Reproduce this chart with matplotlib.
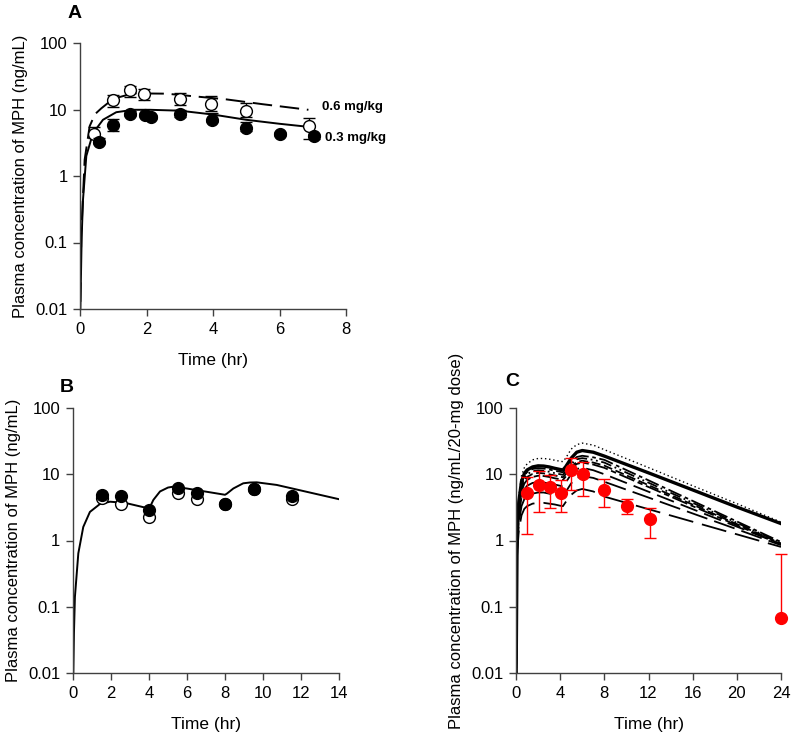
import matplotlib
matplotlib.use("Agg")
import matplotlib.pyplot as plt

plt.rcParams['font.family'] = ['Liberation Sans', 'DejaVu Sans']

# ---- panel A: rat data, two doses
tA_03 = [0.57, 1.0, 1.5, 1.95, 2.15, 3.0, 3.97, 4.98, 6.0, 7.05]
cA_03 = [3.3, 5.9, 8.7, 8.2, 7.8, 8.5, 7.0, 5.3, 4.3, 4.05]
errA_03_lo = [0.3, 1.1, 0.8, 0.6, 0.5, 0.8, 0.6, 0.6, 0.3, 0.5]
errA_03_hi = [0.4, 1.3, 0.9, 0.6, 0.5, 1.2, 1.8, 1.3, 0.3, 0.3]
tA_06 = [0.42, 1.0, 1.5, 1.93, 3.0, 3.95, 4.99, 6.9]
cA_06 = [4.3, 14.0, 19.4, 17.0, 14.5, 12.1, 9.6, 5.7]
errA_06_lo = [0.6, 3.0, 3.9, 3.2, 2.8, 2.5, 1.8, 2.1]
errA_06_hi = [1.2, 2.7, 3.4, 3.0, 3.4, 3.9, 2.8, 1.7]

tA_fit03 = [0, 0.05, 0.09, 0.19, 0.39, 0.69, 1.09, 1.6, 2.1, 3.0, 4.0, 5.0, 6.0, 7.0]
cA_fit03 = [0.005, 0.12, 0.44, 2.0, 4.4, 7.0, 9.1, 9.9, 9.9, 9.6, 8.4, 7.0, 6.1, 5.4]
tA_fit06 = [0, 0.04, 0.14, 0.29, 0.45, 0.64, 1.0, 1.6, 2.6, 3.6, 4.4, 5.5, 6.87]
cA_fit06 = [0.005, 0.14, 1.76, 5.6, 8.5, 10.4, 14.5, 17.5, 17.3, 15.5, 14.2, 12.0, 9.9]

# ---- panel B: multiple dosing
tB_obs = [1.5, 2.5, 4.0, 5.5, 6.5, 8.0, 9.5, 11.5]
cB_filled = [4.9, 4.75, 2.85, 6.2, 5.3, 3.56, 6.0, 4.75]
cB_open = [4.4, 3.5, 2.3, 5.2, 4.3, 3.5, 5.9, 4.2]
tB_fit = [0, 0.05, 0.1, 0.28, 0.54, 0.89, 1.42, 1.95, 2.74, 3.96, 4.05, 4.23, 4.58,
          5.0, 5.28, 5.98, 8.0, 8.1, 8.44, 8.96, 9.3, 9.67, 10.72, 14.0]
cB_fit = [0.005, 0.04, 0.14, 0.64, 1.6, 2.7, 3.56, 3.85, 3.7, 3.06, 3.2, 4.1, 5.5,
          6.3, 6.5, 6.1, 4.9, 5.1, 6.1, 7.3, 7.5, 7.55, 6.9, 4.2]

# ---- panel C: observed (red) and simulated curves
tC_obs = [0.97, 2.11, 3.08, 4.08, 5.01, 6.04, 8.0, 10.03, 12.14, 24.0]
cC_obs = [5.2, 6.9, 6.5, 5.3, 11.6, 10.0, 5.8, 3.3, 2.1, 0.068]
errC_lo = [3.96, 4.23, 3.4, 2.6, 5.8, 5.3, 2.56, 0.8, 1.02, 0.0]
errC_hi = [4.0, 4.4, 3.25, 2.9, 5.8, 5.5, 2.7, 0.9, 1.0, 0.552]

tC = [0, 0.1, 0.25, 0.5, 0.75, 1, 1.5, 2, 2.5, 3, 3.5, 4, 4.25, 4.5, 5, 5.5, 6, 7, 8, 12, 16, 20, 24]
cC_dotted = [0.005, 1.3, 4.6, 9.5, 12.5, 14.3, 16.5, 17.3, 17.3, 16.9, 16.3, 15.7, 15.5, 17.5, 24, 28, 29.5, 27.5, 23.5, 12.6, 6.7, 3.6, 1.9]
cC_solid = [0.005, 1.1, 3.8, 7.8, 10.2, 11.6, 12.9, 13.4, 13.3, 12.9, 12.3, 11.8, 11.6, 13.0, 17.5, 21.5, 22.8, 21.5, 18.8, 10.5, 5.8, 3.2, 1.8]
cC_m1 = [0.005, 1.0, 3.5, 7.2, 9.5, 10.8, 12.0, 12.4, 12.2, 11.8, 11.3, 10.9, 10.7, 12.0, 15.5, 18.2, 19.0, 18.0, 16.5, 8.1, 3.96, 1.94, 0.95]
cC_m2 = [0.005, 0.95, 3.3, 6.7, 8.8, 10.0, 11.1, 11.5, 11.3, 10.9, 10.4, 10.0, 9.8, 11.0, 14.2, 16.8, 17.5, 16.5, 15.0, 7.46, 3.71, 1.85, 0.92]
cC_m3 = [0.005, 0.9, 3.0, 6.1, 8.0, 9.1, 10.1, 10.5, 10.3, 10.0, 9.6, 9.2, 9.0, 10.0, 13.0, 15.3, 16.0, 15.0, 13.5, 6.85, 3.48, 1.77, 0.9]
cC_m4 = [0.005, 0.85, 2.7, 5.5, 7.2, 8.2, 9.1, 9.5, 9.4, 9.1, 8.7, 8.4, 8.2, 9.2, 12.0, 14.3, 15.0, 14.0, 12.5, 6.42, 3.3, 1.7, 0.88]
cC_l1 = [0.005, 0.8, 2.3, 4.5, 5.9, 6.7, 7.4, 7.6, 7.5, 7.3, 7.0, 6.7, 6.5, 7.5, 10.0, 12.0, 12.5, 11.5, 10.0, 5.45, 2.97, 1.62, 0.88]
cC_l2 = [0.005, 0.7, 1.8, 3.3, 4.2, 4.7, 5.1, 5.3, 5.3, 5.1, 4.9, 4.7, 4.6, 5.4, 7.3, 8.8, 9.4, 8.8, 7.7, 4.45, 2.56, 1.48, 0.85]
cC_l3 = [0.005, 0.6, 1.4, 2.4, 3.0, 3.3, 3.6, 3.7, 3.7, 3.6, 3.5, 3.35, 3.3, 3.8, 4.9, 5.7, 6.0, 5.5, 4.6, 2.97, 1.92, 1.24, 0.8]

yticks = [0.01, 0.1, 1, 10, 100]
ytick_labels = ['0.01', '0.1', '1', '10', '100']

FS = 12
AXC = '#404040'


def style_axes(ax, xmax, xticks, ylabel):
    "log y axis, only left/bottom spines, outward ticks"
    ax.set_yscale('log')
    ax.set_xlim(0, xmax)
    ax.set_ylim(0.01, 100)
    ax.set_yticks(yticks)
    ax.set_yticklabels(ytick_labels)
    ax.minorticks_off()
    ax.set_xticks(xticks)
    ax.set_xticklabels([str(x) for x in xticks])
    for s in ['top', 'right']:
        ax.spines[s].set_visible(False)
    for s in ['left', 'bottom']:
        ax.spines[s].set_color(AXC)
        ax.spines[s].set_linewidth(1.0)
    ax.tick_params(direction='out', length=5, width=1.0, color=AXC, labelsize=FS, pad=4)
    ax.set_ylabel(ylabel, fontsize=FS, labelpad=5)
    ax.set_xlabel('Time (hr)', fontsize=FS + 0.5, labelpad=12)


fig = plt.figure(figsize=(7.92, 7.37), dpi=100)

# panel A
axA = fig.add_axes([80 / 792, 1 - 309 / 737, 266 / 792, 266 / 737])
axA.plot(tA_fit03, cA_fit03, color='black', lw=1.4)
lnA, = axA.plot(tA_fit06, cA_fit06, color='black', lw=1.4)
lnA.set_dashes((10, 4))
axA.errorbar(tA_06, cA_06, yerr=[errA_06_lo, errA_06_hi], fmt='o', ms=8.5, mfc='white',
             mec='black', mew=1.0, ecolor='black', elinewidth=1.0, capsize=4.5, zorder=3)
axA.errorbar(tA_03, cA_03, yerr=[errA_03_lo, errA_03_hi], fmt='o', ms=8.5, mfc='black',
             mec='black', ecolor='black', elinewidth=1.0, capsize=4.5, zorder=4, clip_on=False)
axA.text(7.28, 10.9, '0.6 mg/kg', fontsize=9.5, fontweight='bold', va='center', ha='left')
axA.text(7.37, 3.7, '0.3 mg/kg', fontsize=9.5, fontweight='bold', va='center', ha='left')
style_axes(axA, 8, [0, 2, 4, 6, 8], 'Plasma concentration of MPH (ng/mL)')

# panel B
axB = fig.add_axes([73 / 792, 1 - 673 / 737, 266 / 792, 265 / 737])
axB.plot(tB_fit, cB_fit, color='black', lw=1.4)
axB.plot(tB_obs, cB_open, 'o', ms=8.5, mfc='white', mec='black', mew=1.0, zorder=3)
axB.plot(tB_obs, cB_filled, 'o', ms=8.5, mfc='black', mec='black', zorder=4)
style_axes(axB, 14, [0, 2, 4, 6, 8, 10, 12, 14], 'Plasma concentration of MPH (ng/mL)')

# panel C
axC = fig.add_axes([516 / 792, 1 - 673 / 737, 265 / 792, 265 / 737])
axC.plot(tC, cC_dotted, color='black', lw=1.0, ls=(0, (1, 2)))
axC.plot(tC, cC_solid, color='black', lw=2.4)
axC.plot(tC, cC_m1, color='black', lw=1.3, ls=(0, (8, 2, 2, 2)))
axC.plot(tC, cC_m2, color='black', lw=1.3, ls=(0, (6, 2, 1, 2, 1, 2)))
axC.plot(tC, cC_m3, color='black', lw=1.3, ls=(0, (5, 2)))
axC.plot(tC, cC_m4, color='black', lw=1.3, ls=(0, (9, 2, 3, 2)))
axC.plot(tC, cC_l1, color='black', lw=1.3, ls=(0, (10, 4)))
axC.plot(tC, cC_l2, color='black', lw=1.3, ls=(0, (12, 4)))
axC.plot(tC, cC_l3, color='black', lw=1.3, ls=(0, (14, 5)))
axC.errorbar(tC_obs, cC_obs, yerr=[errC_lo, errC_hi], fmt='o', ms=8.5, mfc='#ff0000',
             mec='#ff0000', ecolor='#ff0000', elinewidth=1.0, capsize=4.5, zorder=5, clip_on=False)
style_axes(axC, 24, [0, 4, 8, 12, 16, 20, 24], 'Plasma concentration of MPH (ng/mL/20-mg dose)')

fig.text(75 / 792, 1 - 13 / 737, 'A', fontsize=14, fontweight='bold', ha='center', va='center')
fig.text(67 / 792, 1 - 387 / 737, 'B', fontsize=14, fontweight='bold', ha='center', va='center')
fig.text(512 / 792, 1 - 381 / 737, 'C', fontsize=14, fontweight='bold', ha='center', va='center')

fig.savefig('out.png', dpi=100)
